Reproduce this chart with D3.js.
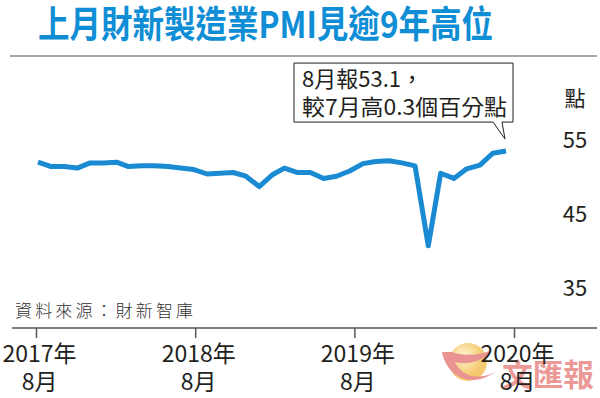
<!DOCTYPE html>
<html lang="zh-Hant">
<head>
    <meta charset="UTF-8">
    <title>財新製造業PMI</title>
    <script src="https://d3js.org/d3.v7.min.js"></script>
    <style>
        body{ margin:0; background:#fff; }
        svg{ display:block; }
        text{ font-family: "Liberation Sans Narrow", "Noto Sans CJK TC", sans-serif; fill:#231f20; }
        .title{ font-family: "Noto Sans CJK TC", sans-serif; font-weight:bold; fill:#0f8ed6; }
        .pmi{ stroke:#1a8bd3; stroke-width:5px; fill:none; stroke-linejoin:round; }
        .note{ fill:#fff; stroke:#231f20; stroke-width:1px; }
    </style>
</head>
<body>
<svg width="600" height="398" viewBox="0 0 600 398"></svg>
<script>
    // data
    let months = ['2017-08','2017-09','2017-10','2017-11','2017-12',
        '2018-01','2018-02','2018-03','2018-04','2018-05','2018-06','2018-07','2018-08','2018-09','2018-10','2018-11','2018-12',
        '2019-01','2019-02','2019-03','2019-04','2019-05','2019-06','2019-07','2019-08','2019-09','2019-10','2019-11','2019-12',
        '2020-01','2020-02','2020-03','2020-04','2020-05','2020-06','2020-07','2020-08'];
    let pmi = [51.6, 51.0, 51.0, 50.8, 51.5,
        51.5, 51.6, 51.0, 51.1, 51.1, 51.0, 50.8, 50.6, 50.0, 50.1, 50.2, 49.7,
        48.3, 49.9, 50.8, 50.2, 50.2, 49.4, 49.7, 50.4, 51.4, 51.7, 51.8, 51.5,
        51.1, 40.3, 50.1, 49.4, 50.7, 51.2, 52.8, 53.1];
    let yTicks = [35, 45, 55];
    let xTicks = ['2017-08','2018-08','2019-08','2020-08'];
    let title = '上月財新製造業PMI見逾9年高位';
    let noteLines = ['8月報53.1，', '較7月高0.3個百分點'];
    let unit = '點';
    let source = '資料來源：財新智庫';

    let parse = d3.timeParse('%Y-%m');
    let data = months.map(function(m, i){ return {date: parse(m), value: pmi[i]}; });

    let svg = d3.select('svg');

    // scales
    let xScale = d3.scaleTime().domain(d3.extent(data, d => d.date)).range([38, 506]);
    let axisScale = d3.scaleTime().domain(xScale.domain()).range([36, 514]);
    let yScale = d3.scaleLinear().domain([35, 55]).range([285, 137]);

    // title + rule
    svg.append('text').attr('class', 'title')
        .attr('x', 38).attr('y', 38)
        .attr('font-size', 37)
        .attr('textLength', 455).attr('lengthAdjust', 'spacingAndGlyphs')
        .text(title);
    svg.append('line').attr('x1', 10).attr('x2', 597).attr('y1', 56).attr('y2', 56)
        .attr('stroke', '#8a8a8a').attr('stroke-width', 1.5);

    // watermark
    let wm = svg.append('g').attr('opacity', 0.75);
    let grad = svg.append('defs').append('radialGradient').attr('id', 'sun')
        .attr('cx', '40%').attr('cy', '35%');
    grad.append('stop').attr('offset', '0%').attr('stop-color', '#fff6c8');
    grad.append('stop').attr('offset', '100%').attr('stop-color', '#f0b640');
    wm.append('circle').attr('cx', 468).attr('cy', 362).attr('r', 19).attr('fill', 'url(#sun)');
    wm.append('path').attr('d', 'M442,352 C446,375 470,390 495,372 C480,380 462,378 455,362 C470,366 484,360 492,350 C478,356 462,356 452,352 Z')
        .attr('fill', '#e2706f');
    wm.append('text').attr('x', 502).attr('y', 386)
        .attr('font-size', 31).attr('font-family', '"Noto Sans CJK TC", sans-serif')
        .attr('font-weight', 'bold').style('fill', '#e57773')
        .attr('textLength', 92).attr('lengthAdjust', 'spacingAndGlyphs')
        .text('文匯報');

    // line
    let line = d3.line().x(d => xScale(d.date)).y(d => yScale(d.value));
    svg.append('path').datum(data).attr('class', 'pmi').attr('d', line);

    // y labels (right)
    svg.append('g').selectAll('text').data(yTicks).join('text')
        .attr('x', 575).attr('y', d => yScale(d) + 11)
        .attr('text-anchor', 'middle').attr('font-size', 22)
        .text(d => d);
    svg.append('text').attr('x', 575).attr('y', 106)
        .attr('text-anchor', 'middle').attr('font-size', 21)
        .attr('font-family', '"Noto Sans CJK TC", sans-serif')
        .text(unit);

    // x axis
    svg.append('line').attr('x1', 12).attr('x2', 597).attr('y1', 328).attr('y2', 328)
        .attr('stroke', '#555').attr('stroke-width', 1.5);
    let xAxis = svg.append('g').attr('transform', 'translate(0,328)')
        .call(d3.axisBottom(axisScale).tickValues(xTicks.map(parse)).tickSize(10).tickFormat(''));
    xAxis.select('.domain').remove();
    xAxis.selectAll('.tick line').attr('stroke', '#555').attr('stroke-width', 1.5);
    xAxis.selectAll('.tick').each(function(d){
        let t = d3.select(this).append('text').attr('text-anchor', 'middle')
            .attr('font-size', 23).attr('fill', '#231f20');
        t.append('tspan').attr('x', 3).attr('y', 34).text(d3.timeFormat('%Y')(d) + '年');
        t.append('tspan').attr('x', 3).attr('y', 62).text(d3.timeFormat('%-m')(d) + '月');
    });

    // source
    svg.append('text').attr('x', 15).attr('y', 317)
        .attr('font-size', 17).attr('font-weight', 300)
        .attr('font-family', '"Noto Sans CJK TC", sans-serif')
        .attr('textLength', 178).attr('lengthAdjust', 'spacing')
        .style('fill', '#333')
        .text(source);

    // annotation box pointing at last value
    let last = data[data.length - 1];
    let tip = [xScale(last.date) - 1, yScale(last.value) - 12];
    let bx = tip[0] - 211, by = tip[1] - 76, bw = 219, bh = 59;
    let box = d3.path();
    box.moveTo(bx, by);
    box.lineTo(bx + bw, by);
    box.lineTo(bx + bw, by + bh);
    box.lineTo(tip[0] - 3, by + bh);
    box.lineTo(tip[0], tip[1]);
    box.lineTo(tip[0] - 12, by + bh);
    box.lineTo(bx, by + bh);
    box.closePath();
    svg.append('path').attr('class', 'note').attr('d', box.toString());
    svg.append('text').attr('x', bx + 8).attr('y', by + 24)
        .attr('font-size', 22)
        .text(noteLines[0]);
    svg.append('text').attr('x', bx + 8).attr('y', by + 52)
        .attr('font-size', 22)
        .attr('textLength', 205).attr('lengthAdjust', 'spacingAndGlyphs')
        .text(noteLines[1]);
</script>
</body>
</html>
